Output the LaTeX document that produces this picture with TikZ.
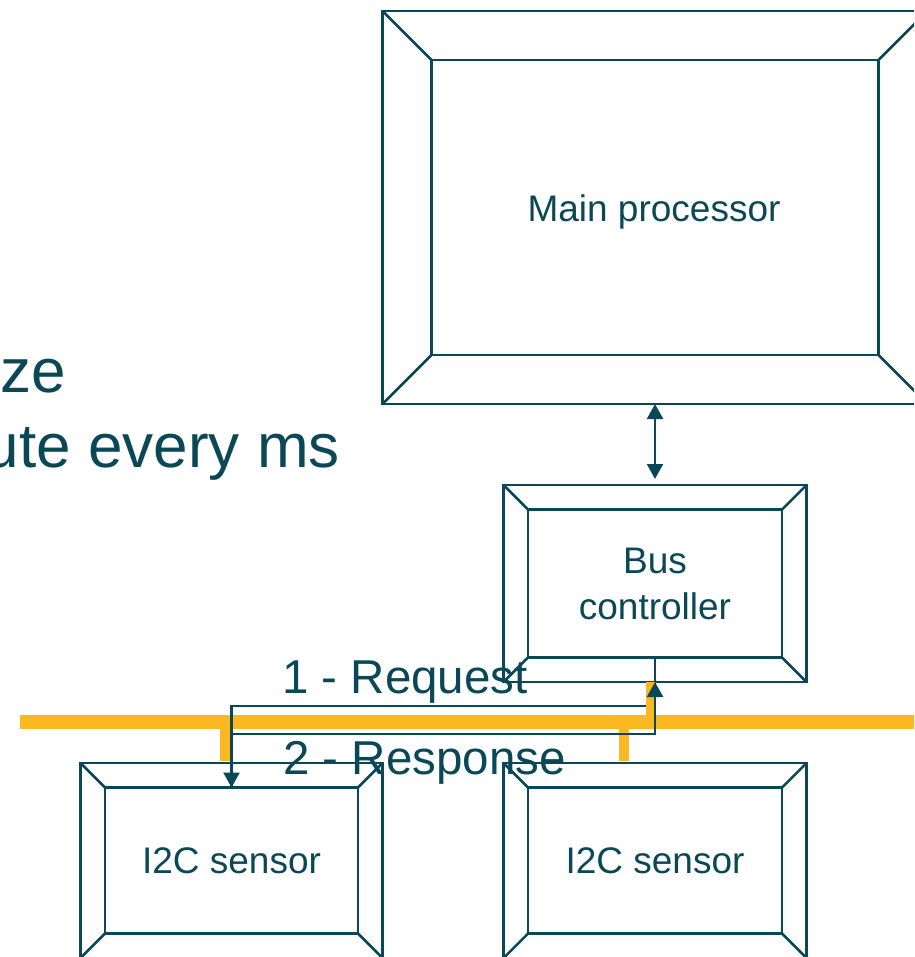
\documentclass[tikz,border=0pt]{standalone}
\usepackage{fontspec}
\setmainfont{Liberation Sans}
\usetikzlibrary{arrows.meta}
\definecolor{ink}{HTML}{0B4857}
\definecolor{busyellow}{HTML}{FBB823}

% bevelled box: outer frame, inner frame, and the four corner bevels
% #1 name, #2,#3 centre, #4,#5 outer size, #6,#7 inner size
\newcommand\bevelbox[7]{%
  \node[frame, minimum width=#4pt, minimum height=#5pt] (#1o) at (#2,#3) {};
  \node[frame, minimum width=#6pt, minimum height=#7pt] (#1i) at (#2,#3) {};
  \foreach \c in {north west,north east,south west,south east}
    \draw[bevel] (#1o.\c) -- (#1i.\c);
}

\begin{document}
\begin{tikzpicture}[x=1pt,y=-1pt,
  frame/.style={draw=ink, line width=2.5pt, rectangle, inner sep=0pt, outer sep=0pt},
  bevel/.style={draw=ink, line width=2.5pt},
  wire/.style={draw=ink, line width=2.3pt},
  headtip/.style={-{Triangle[length=15pt,width=16pt]}},
  bothtips/.style={{Triangle[length=15pt,width=16pt]}-{Triangle[length=15pt,width=16pt]}},
  busline/.style={draw=busyellow, line width=14pt},
  stub/.style={draw=busyellow, line width=10pt},
  boxtxt/.style={text=ink, inner sep=0pt, font=\fontsize{37}{45.7}\selectfont},
  msgtxt/.style={text=ink, inner sep=0pt, font=\fontsize{47.5}{56}\selectfont},
  bigtxt/.style={text=ink, inner sep=0pt, font=\fontsize{62}{75}\selectfont}
]
\useasboundingbox (0,0) rectangle (914,957);
\clip (0,0) rectangle (914,957);

% slide text running in from the left
\node[bigtxt, anchor=base east] (initline) at (66,392) {ze};
\node[bigtxt, anchor=base east] (execline) at (340,467) {ute every ms};

% boxes
\bevelbox{mp}{655}{207.5}{545}{393}{447}{295}
\bevelbox{bc}{655}{583.5}{303}{197}{254}{148}
\bevelbox{sa}{231.5}{860.5}{302}{195}{253}{146}
\bevelbox{sb}{655}{860.5}{303}{195}{254}{146}

\node[boxtxt, anchor=base] (mptxt) at (654,222) {Main processor};
\node[boxtxt, align=center] (bctxt) at (655,584) {Bus\\controller};
\node[boxtxt, anchor=base] (satxt) at (231.5,873) {I2C sensor};
\node[boxtxt, anchor=base] (sbtxt) at (655,873) {I2C sensor};

% processor <-> bus controller
\draw[wire, bothtips, shorten >=6pt] (mpo.south) -- (bco.north);

% I2C bus and sensor taps
\coordinate (busW) at (20,722);
\coordinate (busE) at (930,722);
\draw[busline] (busW) -- (busE);
\draw[stub] (225,722) -- (225,761);
\draw[stub] (624,722) -- (624,761);

% request: controller -> sensor
\coordinate (reqbend) at (231.5,706);
\draw[wire, headtip] (bci.south) |- (reqbend) -- (sai.north);

% controller tap
\draw[busyellow, line width=9pt] (650,722) -- (650,682);

% response: sensor -> controller
\coordinate (resbend) at (655,734);
\draw[wire, headtip] (sai.north) |- (resbend) -- (bco.south);

\node[msgtxt, anchor=base west] (reqtxt) at (282,693) {1 - Request};
\node[msgtxt, anchor=base west] (restxt) at (283,774) {2 - Response};
\end{tikzpicture}
\end{document}
